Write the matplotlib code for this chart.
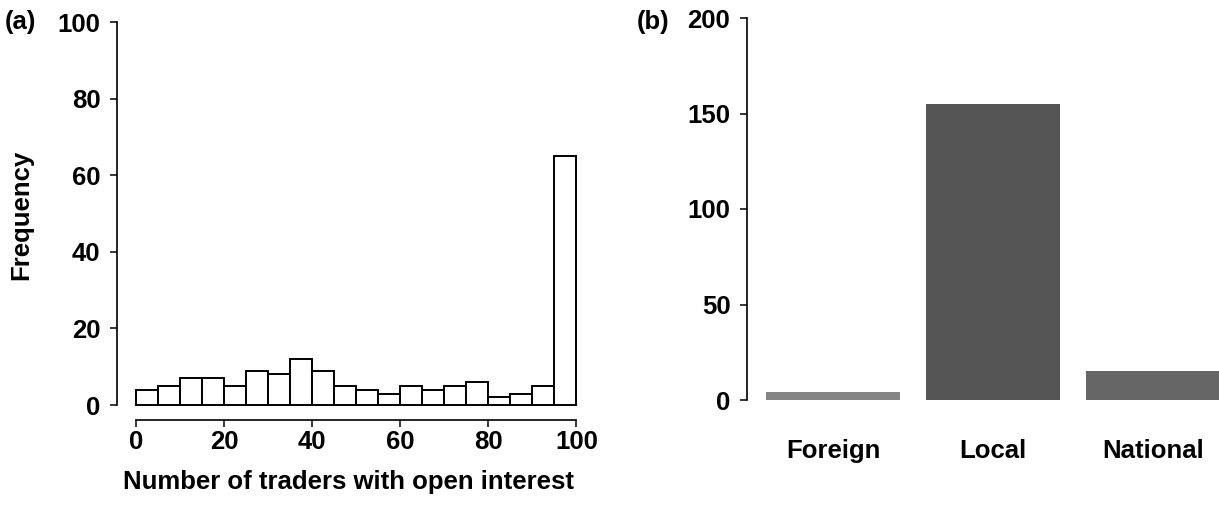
"""Two-panel figure: trader histogram (a) and trader origin bar chart (b)."""

import matplotlib
matplotlib.use("Agg")
import matplotlib.pyplot as plt

# panel (a): histogram of number of traders with open interest, bins of width 5
bin_edges = list(range(0, 100, 5))
bin_counts = [4, 5, 7, 7, 5, 9, 8, 12, 9, 5, 4, 3, 5, 4, 5, 6, 2, 3, 5, 65]
hist_ticks = [0, 20, 40, 60, 80, 100]
freq_ticks = [0, 20, 40, 60, 80, 100]

# panel (b): traders by origin
origins = ["Foreign", "Local", "National"]
origin_counts = [4, 155, 15]
origin_colors = ["#858585", "#555555", "#666666"]
count_ticks = [0, 50, 100, 150, 200]

plt.rcParams["font.family"] = ["Liberation Sans", "DejaVu Sans"]
plt.rcParams["font.size"] = 18.5
plt.rcParams["font.weight"] = "bold"
plt.rcParams["axes.labelweight"] = "bold"

W, H = 1219, 507
fig = plt.figure(figsize=(W / 100, H / 100), dpi=100)

# ---- panel (a)
ax1 = fig.add_axes([117 / W, (H - 420) / H, 463 / W, 398 / H])
ax1.bar(bin_edges, bin_counts, width=5, align="edge",
        facecolor="white", edgecolor="black", linewidth=1.4)
ax1.set_xlim(-4.3, 100.8)
ax1.set_ylim(-3.9, 100)
ax1.set_xticks(hist_ticks)
ax1.set_yticks(freq_ticks)
for side in ("top", "right"):
    ax1.spines[side].set_visible(False)
ax1.spines["left"].set_bounds(0, 100)
ax1.spines["bottom"].set_bounds(0, 100)
for side in ("left", "bottom"):
    ax1.spines[side].set_linewidth(1.2)
ax1.tick_params(axis="both", direction="out", length=5, width=1.1)
ax1.tick_params(axis="y", pad=7)
ax1.tick_params(axis="x", pad=2)
ax1.set_xlabel("Number of traders with open interest", labelpad=12)
ax1.set_ylabel("Frequency")
ax1.yaxis.set_label_coords(-0.18, 0.515)
fig.text(5 / W, 1 - 22 / H, "(a)", ha="left", va="center")

# ---- panel (b)
ax2 = fig.add_axes([747 / W, (H - 400) / H, (W - 747) / W, 382 / H])
ax2.bar(range(len(origins)), origin_counts, width=0.84, color=origin_colors)
ax2.set_xlim(-0.5375, 2.4125)
ax2.set_ylim(0, 200)
ax2.set_yticks(count_ticks)
ax2.set_xticks(range(len(origins)))
ax2.set_xticklabels(origins)
for side in ("top", "right", "bottom"):
    ax2.spines[side].set_visible(False)
ax2.spines["left"].set_linewidth(1.2)
ax2.tick_params(axis="y", direction="out", length=5, width=1.1, pad=7)
ax2.tick_params(axis="x", length=0, pad=28)
fig.text(637 / W, 1 - 22 / H, "(b)", ha="left", va="center")

fig.savefig("out.png", dpi=100)
